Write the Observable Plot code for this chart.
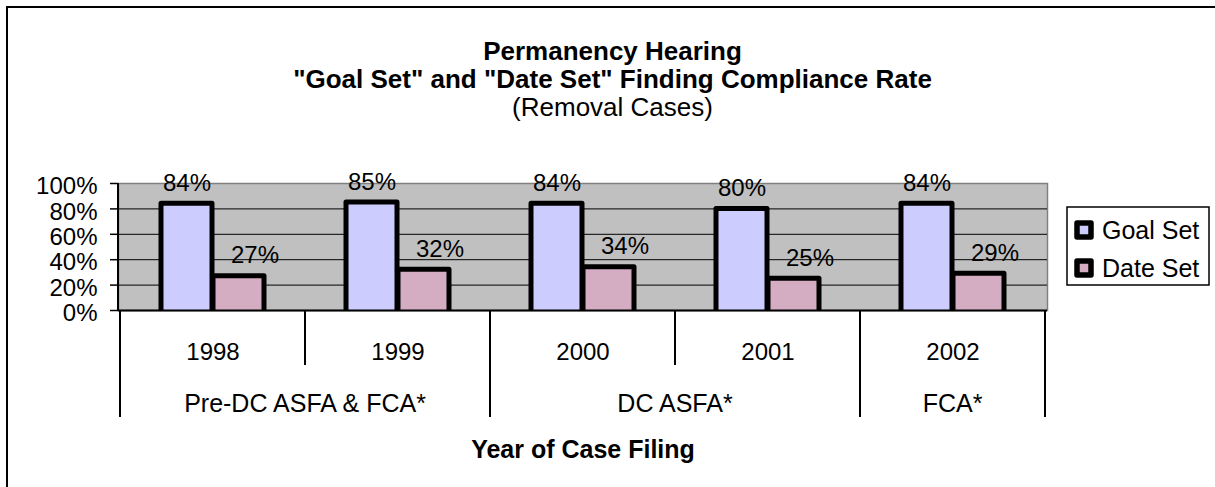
<!DOCTYPE html>
<html><head><meta charset="utf-8">
<script src="https://cdn.jsdelivr.net/npm/d3@7"></script>
<script src="https://cdn.jsdelivr.net/npm/@observablehq/plot@0.6"></script>
<style>html,body{margin:0;padding:0;background:#fff;overflow:hidden;} svg{display:block;}</style>
</head><body><div id="chart"></div>
<script>
const years = ["1998", "1999", "2000", "2001", "2002"];
const goalSet = [84, 85, 84, 80, 84];
const dateSet = [27, 32, 34, 25, 29];
const yearGroups = ["Pre-DC ASFA & FCA*", "Pre-DC ASFA & FCA*", "DC ASFA*", "DC ASFA*", "FCA*"];
const seriesNames = ["Goal Set", "Date Set"];
const seriesColors = ["#ccccff", "#d5adc2"];
const yTicks = [0, 20, 40, 60, 80, 100];
const titleLines = ["Permanency Hearing", "\"Goal Set\" and \"Date Set\" Finding Compliance Rate", "(Removal Cases)"];
const xTitle = "Year of Case Filing";

const goalRows = years.map((year, i) => ({year, series: seriesNames[0], value: goalSet[i]}));
const dateRows = years.map((year, i) => ({year, series: seriesNames[1], value: dateSet[i]}));

const FONT = "'Liberation Sans', Arial, Helvetica, sans-serif";
const W = 1215, H = 487;

function decorations(index, scales, values, dims) {
  const x = scales.x, y = scales.y;
  const g = d3.create("svg:g").attr("font-family", FONT).attr("fill", "#000");
  const y0 = y(0);
  const x0 = dims.marginLeft, x1 = dims.width - dims.marginRight;
  const rowY = y0 + 55, groupY = y0 + 107;
  const bw = typeof x.bandwidth === "function" ? x.bandwidth() : (x1 - x0) / years.length;
  const line = (xa, ya, xb, yb, w, c) => g.append("line")
    .attr("x1", xa).attr("y1", ya).attr("x2", xb).attr("y2", yb)
    .attr("stroke", c || "#000").attr("stroke-width", w);
  // outer chart border: only its top and left edges fall inside the picture
  g.append("path").attr("d", `M7,${dims.height}V7H${dims.width}`)
    .attr("fill", "none").attr("stroke", "#000").attr("stroke-width", 2);
  // y axis line
  line(x0, y(100), x0, y0, 2);
  // separators below axis
  years.forEach((yr, i) => {
    const xs = x(yr);
    const bottom = (i === 0 || yearGroups[i] !== yearGroups[i - 1]) ? groupY : rowY;
    line(xs, y0, xs, bottom, 2);
  });
  line(x(years[years.length - 1]) + bw, y0, x(years[years.length - 1]) + bw, groupY, 2);
  // group labels
  Array.from(new Set(yearGroups)).forEach(label => {
    const idx = yearGroups.map((gr, i) => gr === label ? i : -1).filter(i => i >= 0);
    const a = x(years[idx[0]]), b = x(years[idx[idx.length - 1]]) + bw;
    g.append("text").attr("x", (a + b) / 2).attr("y", groupY - 5)
      .attr("text-anchor", "middle").attr("font-size", 25).text(label);
  });
  // titles
  const cx = dims.width / 2 + 5;
  titleLines.forEach((t, i) => {
    g.append("text").attr("x", cx).attr("y", 60 + i * 28)
      .attr("text-anchor", "middle").attr("font-size", 26)
      .attr("font-weight", i < 2 ? "bold" : "normal").text(t);
  });
  // legend
  const lx = x1 + 20, ly = 207;
  g.append("rect").attr("x", lx).attr("y", ly).attr("width", 142).attr("height", 78)
    .attr("fill", "#fff").attr("stroke", "#000").attr("stroke-width", 1.5);
  seriesNames.forEach((name, i) => {
    const base = ly + 32 + i * 38;
    g.append("rect").attr("x", lx + 10).attr("y", base - 16).attr("width", 14).attr("height", 14)
      .attr("fill", seriesColors[i]).attr("stroke", "#000").attr("stroke-width", 5.5)
      .attr("stroke-linejoin", "round");
    g.append("text").attr("x", lx + 35).attr("y", base).attr("text-anchor", "start")
      .attr("font-size", 25).text(name);
  });
  return g.node();
}

const chart = Plot.plot({
  width: W, height: H,
  marginTop: 183, marginRight: 168, marginBottom: 177, marginLeft: 118,
  style: {fontFamily: FONT, fontSize: "24px", color: "#000", background: "#fff"},
  x: {type: "band", domain: years, padding: 0, axis: null},
  y: {domain: [0, 100]},
  color: {domain: seriesNames, range: seriesColors},
  marks: [
    Plot.frame({fill: "#c0c0c0", stroke: "#808080", strokeWidth: 1.5}),
    Plot.ruleY(yTicks.filter(t => t > 0 && t < 100), {stroke: "#000", strokeWidth: 1}),
    Plot.barY(goalRows, {x: "year", y: "value", fill: "series", stroke: "#000", strokeWidth: 5,
      strokeLinejoin: "round", insetLeft: 41, insetRight: 93, insetBottom: -4, clip: true}),
    Plot.barY(dateRows, {x: "year", y: "value", fill: "series", stroke: "#000", strokeWidth: 5,
      strokeLinejoin: "round", insetLeft: 93, insetRight: 41, insetBottom: -4, clip: true}),
    Plot.ruleY([0], {stroke: "#000", strokeWidth: 2}),
    Plot.axisY({ticks: yTicks, tickSize: 8, tickFormat: () => "", label: null, strokeWidth: 1.5}),
    Plot.text(yTicks, {y: d => d, text: d => d + "%", frameAnchor: "left", textAnchor: "end",
      dx: -21, dy: 3, fontSize: 24}),
    Plot.text(goalRows, {x: "year", y: "value", text: d => d.value + "%", dx: -26, dy: -13,
      lineAnchor: "bottom", fontSize: 24}),
    Plot.text(dateRows, {x: "year", y: "value", text: d => d.value + "%", dx: 42, dy: -13,
      lineAnchor: "bottom", fontSize: 24}),
    Plot.text(years, {x: d => d, text: d => d, frameAnchor: "bottom", lineAnchor: "bottom",
      dy: 49, fontSize: 24}),
    Plot.text([xTitle], {text: d => d, frameAnchor: "bottom", lineAnchor: "bottom", dy: 147,
      fontSize: 25, fontWeight: "bold"}),
    decorations
  ]
});
document.getElementById("chart").appendChild(chart);
</script>
</body></html>
